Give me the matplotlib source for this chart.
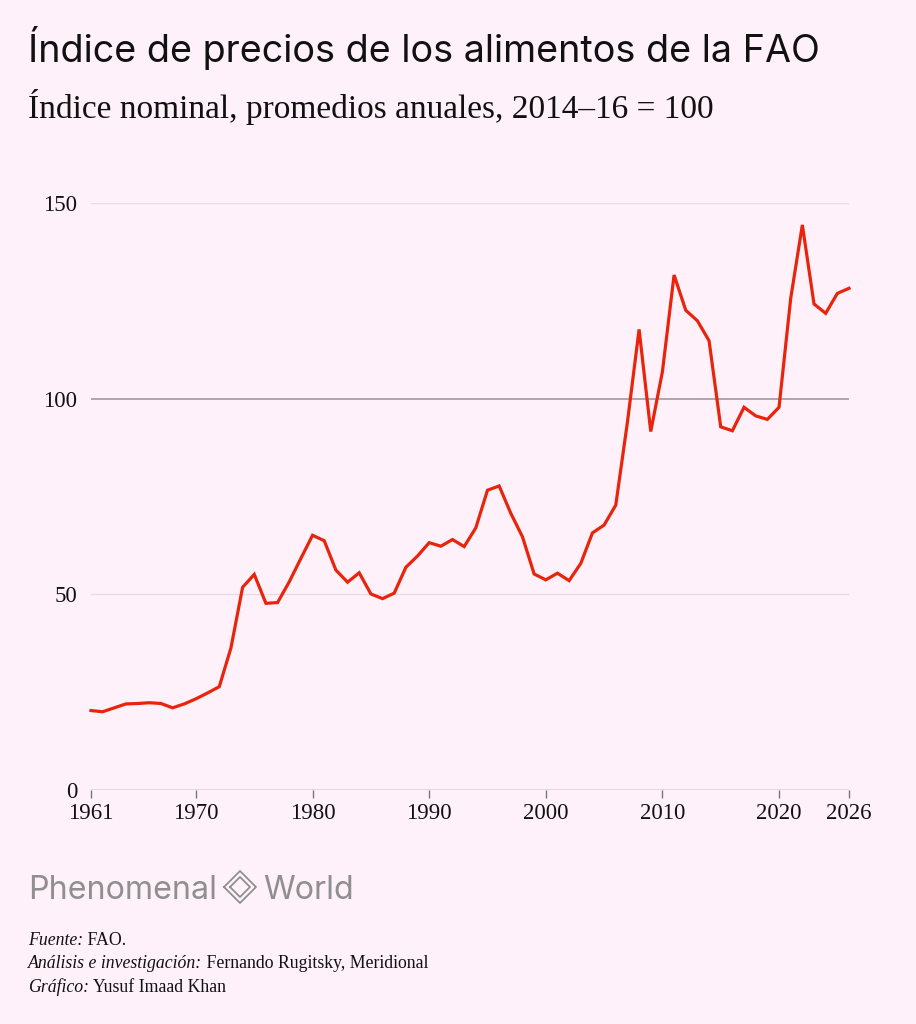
import matplotlib.pyplot as plt
from matplotlib.lines import Line2D

# FAO food price index, nominal, annual averages (2014-16 = 100)
years = list(range(1961, 2027))
index_values = [
    20.3, 20.0, 21.0, 22.0, 22.1, 22.3, 22.1, 21.0, 22.0, 23.3,
    24.8, 26.4, 36.3, 51.8, 55.1, 47.7, 47.9, 53.2, 59.2, 65.1,
    63.7, 56.2, 53.1, 55.5, 50.1, 48.9, 50.3, 56.9, 59.8, 63.2,
    62.3, 64.0, 62.2, 67.0, 76.6, 77.7, 70.7, 64.7, 55.2, 53.7,
    55.4, 53.5, 57.9, 65.7, 67.7, 72.8, 94.0, 117.7, 91.6, 106.9,
    131.6, 122.6, 119.9, 114.8, 92.8, 91.8, 97.8, 95.6, 94.7, 97.8,
    125.6, 144.4, 124.2, 121.8, 126.9, 128.2,
]
y_ticks = [0, 50, 100, 150]
x_ticks = [1961, 1970, 1980, 1990, 2000, 2010, 2020, 2026]

BG = '#fef1fa'
RED = '#e8250c'
SERIF = 'Liberation Serif'
SANS = 'Inter'

W, H = 916, 1024
fig = plt.figure(figsize=(W / 100, H / 100), dpi=100, facecolor=BG)
ax = fig.add_axes([91 / W, 1 - 790 / H, (849 - 91) / W, (790 - 203) / H])
ax.set_facecolor(BG)

# --- grid lines ---
for v in y_ticks:
    if v == 100:
        ax.axhline(v, color='#9a9197', lw=1.1, zorder=1)
    elif v == 0:
        ax.axhline(v, color='#ddd0d9', lw=1.1, zorder=1)
    else:
        ax.axhline(v, color='#eadce5', lw=1.0, zorder=1)

ax.plot(years, index_values, color=RED, lw=2.3, zorder=3,
        solid_joinstyle='miter', clip_on=False)

ax.set_xlim(1961, 2026)
ax.set_ylim(0, 150)
for s in ax.spines.values():
    s.set_visible(False)

ax.set_yticks(y_ticks)
ax.set_yticklabels([str(v) for v in y_ticks], family=SERIF, fontsize=16.5, color='#111111')
ax.tick_params(axis='y', length=0, pad=10)
ax.set_xticks(x_ticks)
ax.set_xticklabels([str(v) for v in x_ticks], family=SERIF, fontsize=16.5, color='#111111')
ax.tick_params(axis='x', length=6, width=1, color='#777777', pad=3.5)

# --- titles ---
fig.text(28 / W, 1 - 62 / H, 'Índice de precios de los alimentos de la FAO',
         family=SANS, fontsize=27.2, color='#111111',
         ha='left', va='baseline')
fig.text(28 / W, 1 - 118 / H, 'Índice nominal, promedios anuales, 2014–16 = 100',
         family=SERIF, fontsize=24, color='#111111', ha='left', va='baseline')

# --- logo ---
fig.text(28 / W, 1 - 899 / H, 'Phenomenal', family=SANS, fontsize=23.2,
         color='#8f8f8f', ha='left', va='baseline')
fig.text(263 / W, 1 - 899 / H, 'World', family=SANS, fontsize=23.2,
         color='#8f8f8f', ha='left', va='baseline')
cx, cy = 240, 887
for r in (16, 10):
    xs = [cx - r, cx, cx + r, cx, cx - r]
    ys = [cy, cy - r, cy, cy + r, cy]
    fig.add_artist(Line2D([x / W for x in xs], [1 - y / H for y in ys],
                          color='#8f8f8f', lw=1.3, transform=fig.transFigure))

# --- credits ---
credits = [
    ('Fuente:', ' FAO.'),
    ('Análisis e investigación:', ' Fernando Rugitsky, Meridional'),
    ('Gráfico:', ' Yusuf Imaad Khan'),
]
renderer = fig.canvas.get_renderer()
for i, (lab, val) in enumerate(credits):
    yb = 1 - (945 + i * 23.5) / H
    t = fig.text(28 / W, yb, lab, family=SERIF, style='italic', fontsize=12.8,
                 color='#111111', ha='left', va='baseline')
    bb = t.get_window_extent(renderer)
    fig.text(bb.x1 / W, yb, val, family=SERIF, fontsize=12.8,
             color='#111111', ha='left', va='baseline')

fig.savefig('out.png', dpi=100, facecolor=BG)
